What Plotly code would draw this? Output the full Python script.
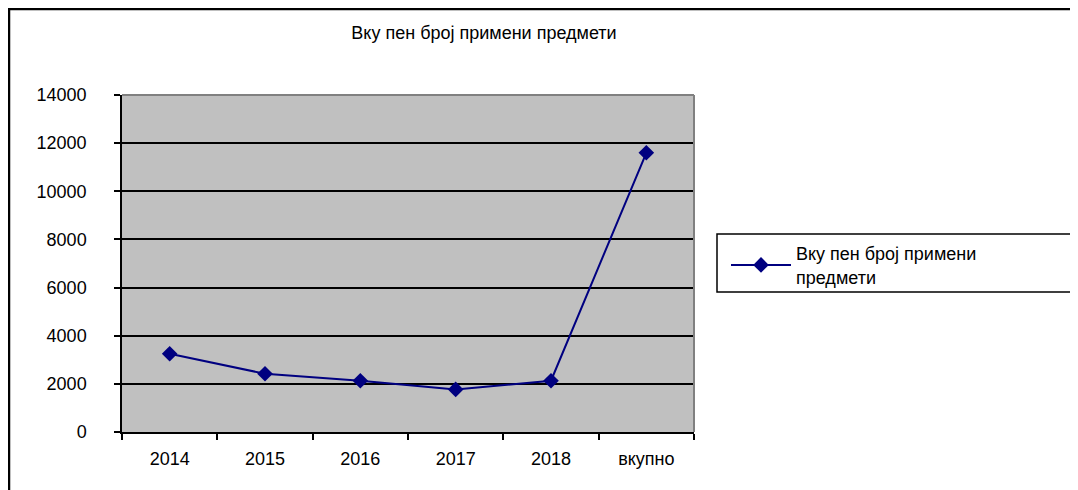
import plotly.graph_objects as go

categories = ["2014", "2015", "2016", "2017", "2018", "вкупно"]
values = [3250, 2420, 2130, 1770, 2130, 11600]
series_name = "Вку пен број примени<br>предмети"
title_text = "Вку пен број примени предмети"
y_ticks = [0, 2000, 4000, 6000, 8000, 10000, 12000, 14000]

OFF = 8  # page body offset
W, H = 1078 - OFF, 490 - OFF
L, R, T, B = 122 - OFF, 694 - OFF, 95 - OFF, 432 - OFF

def px_x(p):
    return (p - OFF - L) / (R - L)

def px_y(p):
    return (B - (p - OFF)) / (B - T)

fig = go.Figure()
fig.add_trace(go.Scatter(
    x=categories, y=values, mode="lines+markers", name=series_name,
    line=dict(color="#000080", width=2),
    marker=dict(symbol="diamond", size=12, color="#000080"),
))

font = dict(family="Liberation Sans, Arial, sans-serif", size=18, color="black")

fig.update_layout(
    width=W, height=H,
    margin=dict(l=L, r=W - R, t=T, b=H - B),
    paper_bgcolor="white", plot_bgcolor="#C0C0C0",
    font=font,
    showlegend=True,
    title=dict(text=title_text, x=(484 - OFF) / W, xanchor="center",
               y=1 - (33 - OFF) / H, yanchor="middle", font=font),
    legend=dict(x=px_x(726), y=px_y(235), xanchor="left", yanchor="top",
                bgcolor="rgba(0,0,0,0)", borderwidth=0, font=font,
                itemwidth=60),
    xaxis=dict(type="category", showgrid=False, showline=True, linecolor="black",
               linewidth=1.5, ticks="outside", tickson="boundaries", ticklen=6,
               tickcolor="black", tickwidth=1.5, range=[-0.5, 5.5],
               ticklabelstandoff=10),
    yaxis=dict(range=[0, 14000], tickvals=y_ticks, tickformat="d", showgrid=True,
               gridcolor="black", gridwidth=1.5, showline=True, linecolor="black",
               linewidth=1.5, ticks="outside", ticklen=6, tickcolor="black",
               tickwidth=1.5, ticklabelstandoff=24, zeroline=False),
    shapes=[
        dict(type="rect", xref="paper", yref="paper",
             x0=px_x(9), x1=px_x(1100), y0=px_y(9), y1=px_y(520),
             line=dict(color="black", width=2.5), layer="below"),
        dict(type="line", xref="paper", yref="paper", x0=0, x1=1, y0=1, y1=1,
             line=dict(color="#808080", width=2), layer="above"),
        dict(type="line", xref="paper", yref="paper", x0=1, x1=1, y0=0, y1=1,
             line=dict(color="#808080", width=2), layer="above"),
        dict(type="rect", xref="paper", yref="paper",
             x0=px_x(717), x1=px_x(1076), y0=px_y(234), y1=px_y(292),
             line=dict(color="black", width=1.5)),
    ],
)

fig.write_html("out.html")
